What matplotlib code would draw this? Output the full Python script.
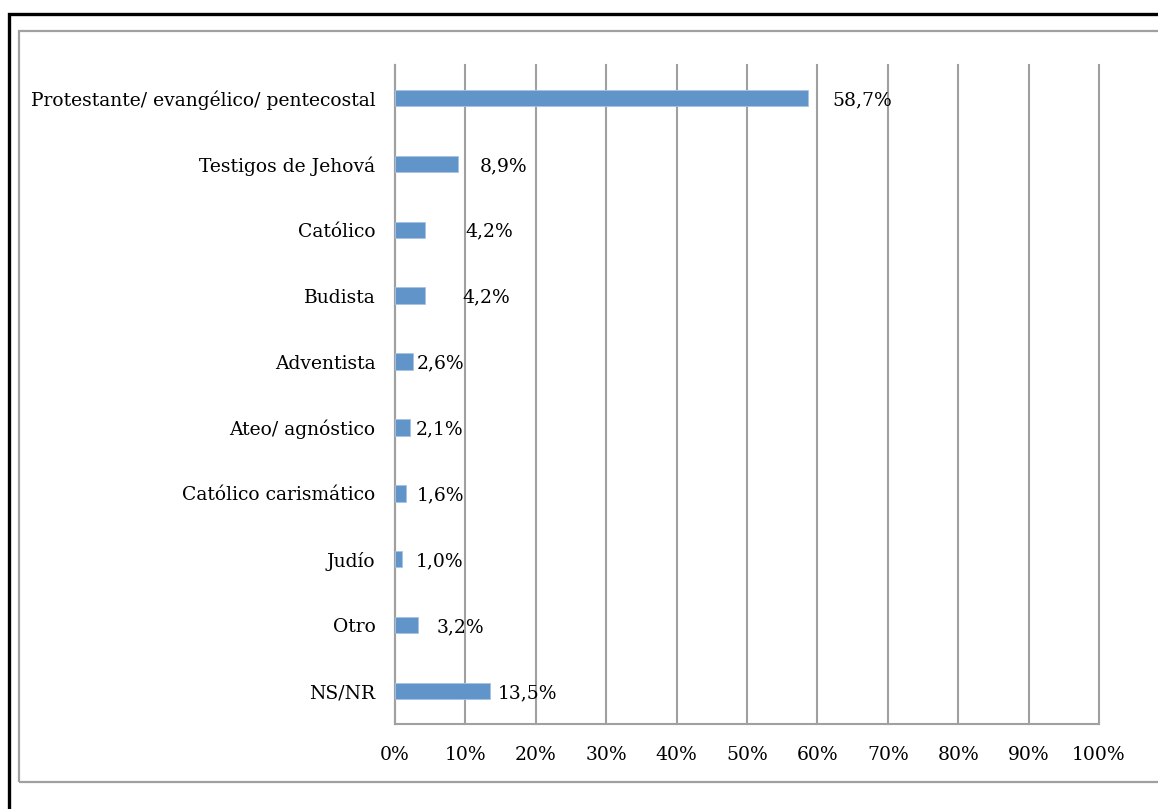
import matplotlib
matplotlib.use("Agg")
import matplotlib.pyplot as plt
from matplotlib.patches import Rectangle
from matplotlib.ticker import MultipleLocator, FuncFormatter

categories = [
    "Protestante/ evangélico/ pentecostal",
    "Testigos de Jehová",
    "Católico",
    "Budista",
    "Adventista",
    "Ateo/ agnóstico",
    "Católico carismático",
    "Judío",
    "Otro",
    "NS/NR",
]
values = [58.7, 8.9, 4.2, 4.2, 2.6, 2.1, 1.6, 1.0, 3.2, 13.5]
value_labels = ["58,7%", "8,9%", "4,2%", "4,2%", "2,6%", "2,1%", "1,6%", "1,0%", "3,2%", "13,5%"]

# label offsets from bar end, in pixels (Excel-style placement)
label_offsets_px = [24, 22, 41, 38, 3, 6, 10, 14, 19, 8]

BAR = "#6194C8"
GRID = "#A0A0A0"
FONT = "DejaVu Serif"
W, H = 1158, 809

fig = plt.figure(figsize=(W / 100, H / 100), dpi=100)
fig.patch.set_facecolor("white")

# outer black frame and inner grey chart border (run off right/bottom edges)
fig.patches.append(Rectangle((9 / W, -0.1), 1.2, 1.1 - 14 / H,
                             transform=fig.transFigure, fill=False,
                             edgecolor="black", linewidth=2.4))
fig.patches.append(Rectangle((19 / W, 1 - 782 / H), 1.2, (782 - 31) / H,
                             transform=fig.transFigure, fill=False,
                             edgecolor=GRID, linewidth=1.6))

ax = fig.add_axes([395 / W, 1 - 724 / H, (1099 - 395) / W, (724 - 65) / H])

pos = list(range(len(categories)))
ax.barh(pos, values, height=0.25, color=BAR, edgecolor="#A9C4E4",
        linewidth=0.6, zorder=3)

ax.set_xlim(0, 100)
ax.set_ylim(len(categories) - 0.5, -0.5)
ax.xaxis.set_major_locator(MultipleLocator(10))
ax.xaxis.set_major_formatter(FuncFormatter(lambda v, _: f"{int(v)}%"))
ax.set_yticks(pos)
ax.set_yticklabels(categories)

ax.grid(axis="x", color=GRID, linewidth=1.5, zorder=0)
for gl in ax.get_xgridlines():
    gl.set_clip_on(False)
for side in ("top", "right"):
    ax.spines[side].set_visible(False)
for side in ("left", "bottom"):
    ax.spines[side].set_color(GRID)
    ax.spines[side].set_linewidth(1.5)

ax.tick_params(axis="both", length=0, labelsize=13.5, colors="black")
ax.tick_params(axis="y", pad=14)
ax.tick_params(axis="x", pad=16)
for lab in ax.get_xticklabels() + ax.get_yticklabels():
    lab.set_fontfamily(FONT)

for i, (v, txt, off) in enumerate(zip(values, value_labels, label_offsets_px)):
    ax.annotate(txt, (v, i), xytext=(off * 0.72, -1.5), textcoords="offset points",
                ha="left", va="center", fontsize=13.5, family=FONT, zorder=4)

fig.savefig("out.png", dpi=100, facecolor="white")
